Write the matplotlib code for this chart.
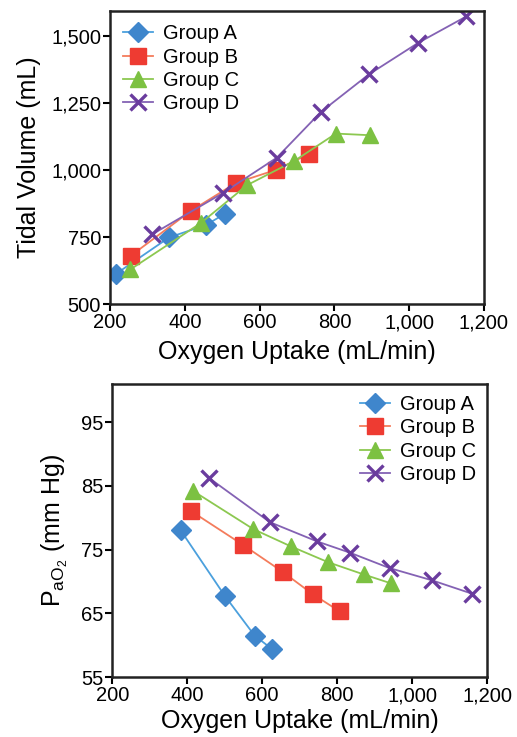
import matplotlib.pyplot as plt
from matplotlib.ticker import FuncFormatter

plt.rcParams['font.family'] = ['Liberation Sans', 'DejaVu Sans']
plt.rcParams['mathtext.fontset'] = 'custom'
plt.rcParams['mathtext.rm'] = 'Liberation Sans'
plt.rcParams['mathtext.it'] = 'Liberation Sans'

groups = ['Group A', 'Group B', 'Group C', 'Group D']

# top panel: tidal volume vs oxygen uptake
tv_x = {
    'Group A': [217, 358, 456, 508],
    'Group B': [255, 416, 537, 645, 731],
    'Group C': [254, 443, 566, 693, 804, 894],
    'Group D': [312, 502, 646, 764, 892, 1024, 1153],
}
tv_y = {
    'Group A': [614, 749, 795, 838],
    'Group B': [680, 848, 953, 1002, 1060],
    'Group C': [629, 803, 944, 1035, 1137, 1131],
    'Group D': [760, 915, 1047, 1218, 1358, 1476, 1575],
}

# bottom panel: PaO2 vs oxygen uptake
pa_x = {
    'Group A': [383, 501, 580, 626],
    'Group B': [409, 550, 655, 735, 807],
    'Group C': [416, 577, 677, 777, 871, 944],
    'Group D': [457, 621, 746, 835, 940, 1052, 1159],
}
pa_y = {
    'Group A': [78.0, 67.7, 61.5, 59.4],
    'Group B': [81.1, 75.7, 71.5, 68.0, 65.3],
    'Group C': [84.2, 78.2, 75.5, 73.0, 71.1, 69.7],
    'Group D': [86.3, 79.3, 76.3, 74.5, 72.1, 70.2, 68.1],
}

styles = {
    'Group A': dict(marker='D', color='#4BA0DD', mfc='#3F86CC', mec='#3F86CC', ms=10),
    'Group B': dict(marker='s', color='#F47C5C', mfc='#EE3B32', mec='#EE3B32', ms=11),
    'Group C': dict(marker='^', color='#8CC850', mfc='#7CC142', mec='#7CC142', ms=12),
    'Group D': dict(marker='x', color='#8462B4', mfc='#6A3C9E', mec='#6A3C9E', ms=11, mew=2.4),
}

comma = FuncFormatter(lambda v, p: f'{v:,.0f}')

fig = plt.figure(figsize=(5.17, 7.37), dpi=100)
ax1 = fig.add_axes([0.213, 0.5875, 0.723, 0.3975])
ax2 = fig.add_axes([0.217, 0.0814, 0.725, 0.3976])

for g in groups:
    ax1.plot(tv_x[g], tv_y[g], lw=1.3, label=g, **styles[g])
    ax2.plot(pa_x[g], pa_y[g], lw=1.3, label=g, **styles[g])

ax1.set_xlim(200, 1200)
ax1.set_ylim(500, 1595)
ax1.set_xticks([200, 400, 600, 800, 1000, 1200])
ax1.set_yticks([500, 750, 1000, 1250, 1500])
ax1.set_ylabel('Tidal Volume (mL)', fontsize=18, labelpad=7)
ax1.set_xlabel('Oxygen Uptake (mL/min)', fontsize=18, labelpad=6)
ax1.legend(loc='upper left', frameon=False, fontsize=14.5, handlelength=1.5,
           labelspacing=0.22, borderaxespad=0.45, borderpad=0.2, handletextpad=0.5)

ax2.set_xlim(200, 1200)
ax2.set_ylim(55, 101)
ax2.set_xticks([200, 400, 600, 800, 1000, 1200])
ax2.set_yticks([55, 65, 75, 85, 95])
ax2.set_ylabel(r'P$_{\mathrm{aO}_2}$ (mm Hg)', fontsize=18, labelpad=8)
ax2.set_xlabel('Oxygen Uptake (mL/min)', fontsize=18, labelpad=3)
ax2.legend(loc='upper right', frameon=False, fontsize=14.5, handlelength=1.5,
           labelspacing=0.22, borderaxespad=0.35, borderpad=0.2, handletextpad=0.5)

for ax in (ax1, ax2):
    ax.xaxis.set_major_formatter(comma)
    ax.yaxis.set_major_formatter(comma)
    ax.tick_params(labelsize=14.5, length=5, width=1.5, direction='out', pad=1.5)
    for s in ax.spines.values():
        s.set_linewidth(1.8)
        s.set_color('#222222')

fig.savefig('out.png', dpi=100)
